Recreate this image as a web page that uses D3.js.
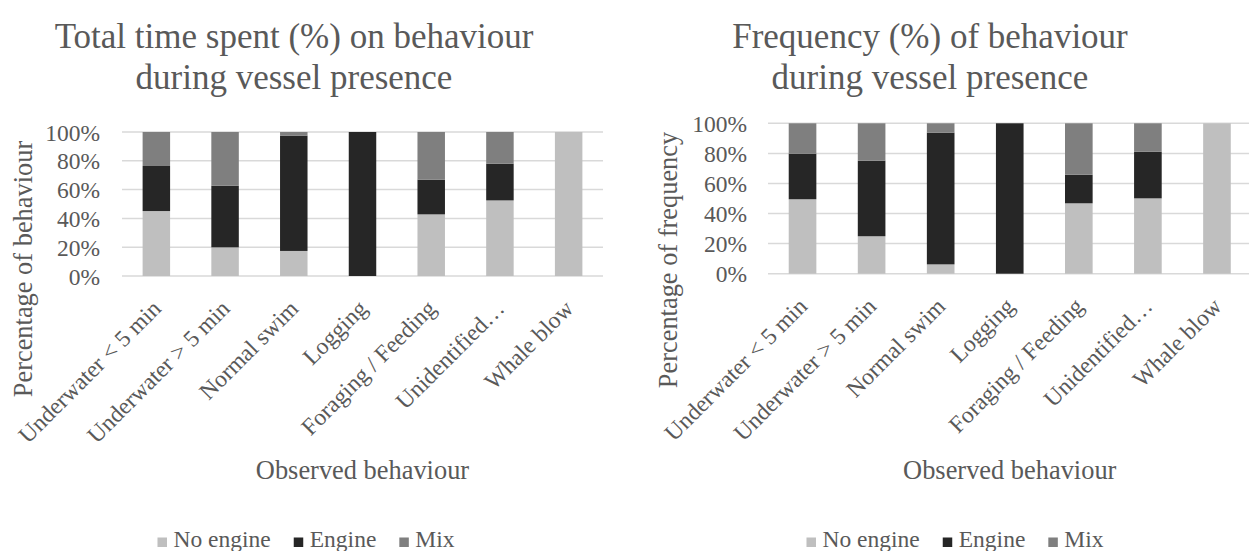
<!DOCTYPE html>
<html>
<head>
<meta charset="utf-8">
<script src="https://cdn.jsdelivr.net/npm/d3@7"></script>
<style>
  body { margin: 0; background: #fff; }
  svg { display: block; font-family: "Liberation Serif", "Times New Roman", serif; }
  svg text { font-family: "Liberation Serif", "Times New Roman", serif; }
</style>
</head>
<body>
<svg id="chart" width="1249" height="551"></svg>
<script>
// categories (x axis)
const categories = ["Underwater < 5 min", "Underwater > 5 min", "Normal swim", "Logging",
    "Foraging / Feeding", "Unidentified…", "Whale blow"];
const seriesNames = ["No engine", "Engine", "Mix"];
const seriesColors = ["#bfbfbf", "#262626", "#7f7f7f"];

// left chart: total time spent (%)
const timeNoEngine = [45.1, 19.9, 17.4, 0, 42.8, 52.5, 100];
const timeEngine   = [31.3, 42.8, 80.1, 100, 24.1, 25.5, 0];
const timeMix      = [23.6, 37.3, 2.5, 0, 33.1, 22.0, 0];

// right chart: frequency (%)
const freqNoEngine = [49.5, 24.9, 6.2, 0, 46.8, 50.1, 100];
const freqEngine   = [30.3, 50.2, 87.6, 100, 19.0, 31.0, 0];
const freqMix      = [20.2, 24.9, 6.2, 0, 34.2, 18.9, 0];

const yTicks = [0, 20, 40, 60, 80, 100];

const textColor = "#595959";
const gridColor = "#d9d9d9";

const svg = d3.select("#chart");

function drawChart(cfg) {
    const g = svg.append("g");

    const x = d3.scaleBand()
        .domain(categories)
        .range([cfg.left, cfg.right])
        .paddingInner(0.6)
        .paddingOuter(0.3);

    const y = d3.scaleLinear()
        .domain([0, 100])
        .range([cfg.bottom, cfg.top]);

    // gridlines
    g.append("g")
        .selectAll("line")
        .data(yTicks)
        .join("line")
            .attr("x1", cfg.left)
            .attr("x2", cfg.right)
            .attr("y1", d => y(d))
            .attr("y2", d => y(d))
            .attr("stroke", gridColor)
            .attr("stroke-width", 1.5);

    // y tick labels
    const yAxis = g.append("g")
        .attr("transform", "translate(" + cfg.tickRight + ",0)")
        .call(d3.axisLeft(y).tickValues(yTicks).tickFormat(d => d + "%").tickSize(0).tickPadding(0));
    yAxis.attr("font-size", null).attr("font-family", null);
    yAxis.select(".domain").remove();
    yAxis.selectAll("text")
        .style("fill", textColor)
        .style("font-size", "23.5px")
        .attr("dy", "0.34em");

    // stacked bars
    const rows = categories.map((c, i) => ({
        cat: c, noEngine: cfg.values[0][i], engine: cfg.values[1][i], mix: cfg.values[2][i]
    }));
    const stack = d3.stack().keys(["noEngine", "engine", "mix"])(rows);

    g.append("g")
        .selectAll("g")
        .data(stack)
        .join("g")
            .attr("fill", (d, i) => seriesColors[i])
        .selectAll("rect")
        .data(d => d)
        .join("rect")
            .attr("x", d => x(d.data.cat))
            .attr("width", x.bandwidth())
            .attr("y", d => y(d[1]))
            .attr("height", d => y(d[0]) - y(d[1]));

    // category labels rotated
    g.append("g")
        .selectAll("text")
        .data(categories)
        .join("text")
            .attr("transform", d => "translate(" + (x(d) + x.bandwidth() / 2 + 6) + "," + (cfg.bottom + 34) + ") rotate(-45)")
            .attr("text-anchor", "end")
            .style("fill", textColor)
            .style("font-size", "23.5px")
            .text(d => d);

    // title
    const title = g.append("text")
        .attr("text-anchor", "middle")
        .style("fill", textColor)
        .style("font-size", "35px");
    cfg.title.forEach((line, i) => {
        title.append("tspan")
            .attr("x", cfg.titleX)
            .attr("y", 48 + i * 41)
            .text(line);
    });

    // y axis title
    g.append("text")
        .attr("transform", "translate(" + cfg.yTitleX + "," + cfg.yTitleY + ") rotate(-90)")
        .attr("text-anchor", "middle")
        .style("fill", textColor)
        .style("font-size", "26.4px")
        .text(cfg.yTitle);

    // x axis title
    g.append("text")
        .attr("x", (cfg.left + cfg.right) / 2)
        .attr("y", 479)
        .attr("text-anchor", "middle")
        .style("fill", textColor)
        .style("font-size", "26.4px")
        .text("Observed behaviour");

    // legend
    const leg = g.append("g");
    let cx = 0;
    seriesNames.forEach((name, i) => {
        leg.append("rect")
            .attr("x", cx)
            .attr("y", -9.5)
            .attr("width", 9.5)
            .attr("height", 9.5)
            .attr("fill", seriesColors[i]);
        const t = leg.append("text")
            .attr("x", cx + 16)
            .attr("y", 0)
            .style("fill", textColor)
            .style("font-size", "23.5px")
            .text(name);
        cx += 16 + t.node().getComputedTextLength() + 23;
    });
    const legW = cx - 23;
    leg.attr("transform", "translate(" + (cfg.legendX - legW / 2) + ",547)");
}

drawChart({
    left: 122, right: 603, top: 132, bottom: 276,
    tickRight: 100,
    values: [timeNoEngine, timeEngine, timeMix],
    title: ["Total time spent (%) on behaviour", "during vessel presence"],
    titleX: 294,
    yTitle: "Percentage of behaviour",
    yTitleX: 32, yTitleY: 269,
    legendX: 306
});

drawChart({
    left: 768, right: 1251.5, top: 123.3, bottom: 273.7,
    tickRight: 747,
    values: [freqNoEngine, freqEngine, freqMix],
    title: ["Frequency (%) of behaviour", "during vessel presence"],
    titleX: 930,
    yTitle: "Percentage of frequency",
    yTitleX: 677, yTitleY: 260,
    legendX: 955
});
</script>
</body>
</html>
